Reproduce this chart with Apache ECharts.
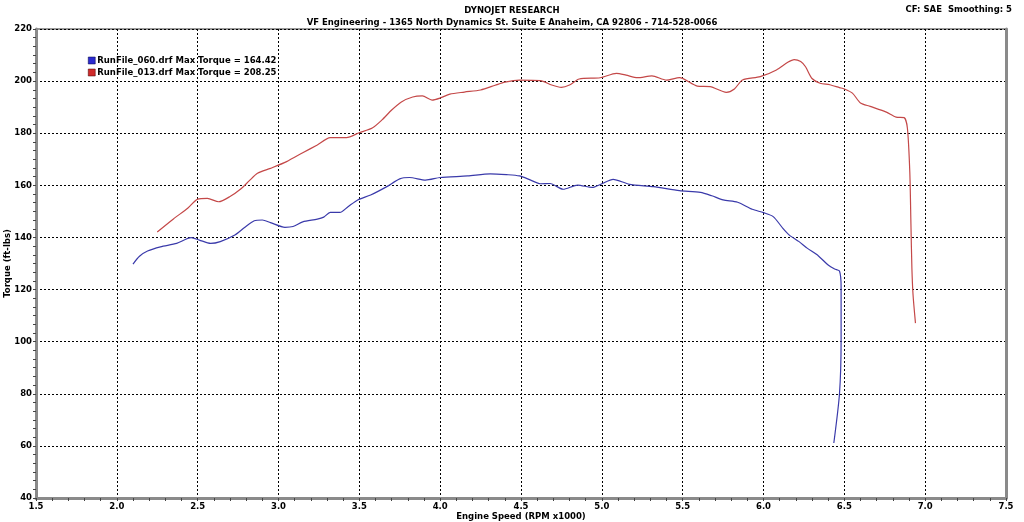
<!DOCTYPE html>
<html>
<head>
<meta charset="utf-8">
<script src="https://cdn.jsdelivr.net/npm/echarts@6/dist/echarts.min.js"></script>
<style>html,body{margin:0;padding:0;background:#fff}#c{width:1024px;height:522px}</style>
</head>
<body>
<div id="c"></div>
<script>
const titleMain = 'DYNOJET RESEARCH';
const titleSub = 'VF Engineering - 1365 North Dynamics St. Suite E Anaheim, CA 92806 - 714-528-0066';
const cornerText = 'CF: SAE  Smoothing: 5';
const seriesNames = ['RunFile_060.drf Max Torque = 164.42', 'RunFile_013.drf Max Torque = 208.25'];

const rpmBlue = [2.10,2.14,2.19,2.27,2.37,2.46,2.51,2.58,2.64,2.73,2.79,2.85,2.90,2.95,3.04,3.09,3.15,3.24,3.28,3.32,3.38,3.43,3.49,3.57,3.67,3.75,3.81,3.91,4.00,4.17,4.31,4.41,4.49,4.56,4.62,4.68,4.76,4.85,4.94,5.00,5.07,5.17,5.32,5.48,5.61,5.68,5.75,5.84,5.93,6.00,6.06,6.12,6.16,6.22,6.27,6.34,6.40,6.44,6.47,6.48,6.48,6.47,6.435];
const torqueBlue = [129.8,132.8,134.8,136.4,137.7,139.9,139.0,137.7,138.4,140.9,143.8,146.4,146.7,145.7,143.9,144.2,146.0,147.0,147.8,149.6,149.6,151.8,154.4,156.3,159.5,162.5,163.0,162.0,163.0,163.6,164.42,164.1,163.6,162.0,160.6,160.7,158.5,160.1,159.2,160.6,162.3,160.4,159.5,158.0,157.3,156.0,154.4,153.5,150.8,149.5,148.0,143.5,140.9,138.4,135.9,132.9,129.4,127.9,127.1,121.0,100.6,80.0,61.1];

const rpmRed = [2.25,2.35,2.44,2.50,2.56,2.63,2.70,2.77,2.82,2.87,2.95,3.05,3.15,3.24,3.32,3.42,3.50,3.58,3.64,3.70,3.76,3.83,3.89,3.95,4.00,4.06,4.15,4.25,4.34,4.40,4.49,4.62,4.69,4.75,4.80,4.86,4.99,5.09,5.15,5.22,5.31,5.40,5.48,5.59,5.67,5.77,5.82,5.87,5.98,6.08,6.15,6.19,6.23,6.26,6.30,6.35,6.41,6.47,6.50,6.55,6.60,6.66,6.76,6.82,6.87,6.89,6.905,6.912,6.918,6.925,6.94];
const torqueRed = [142.1,147.1,151.3,154.7,155.0,153.7,155.7,158.8,161.8,164.6,166.5,169.1,172.5,175.5,178.3,178.3,180.2,182.0,185.1,188.9,192.0,193.9,194.3,192.7,193.5,195.0,195.8,196.6,198.4,199.6,200.4,200.2,198.5,197.6,198.5,200.8,201.3,203.0,202.3,201.3,202.0,200.4,201.3,198.1,197.9,195.7,197.0,200.4,201.7,204.3,207.2,208.25,207.5,205.5,201.0,199.2,198.6,197.5,197.0,195.4,191.6,190.3,188.1,186.2,186.0,182.0,165.0,145.0,128.0,118.0,107.1];

const xTicks = {min: 1.5, max: 7.5, interval: 0.5};
const yTicks = {min: 40, max: 220, interval: 20};

const pair = (xs, ys) => xs.map((x, i) => [x, ys[i]]);
const bold = {fontFamily: 'DejaVu Sans', fontWeight: 'bold', color: '#000'};

const chart = echarts.init(document.getElementById('c'), null, {renderer: 'canvas'});
chart.setOption({
  animation: false,
  backgroundColor: '#fff',
  title: [
    {text: titleMain, subtext: titleSub, left: 'center', top: 1, itemGap: 3,
     textStyle: Object.assign({fontSize: 8.5}, bold),
     subtextStyle: Object.assign({fontSize: 8.5}, bold)},
    {text: cornerText, right: 7, top: 0, textStyle: Object.assign({fontSize: 8.5}, bold)}
  ],
  legend: {
    orient: 'vertical', left: 83, top: 51, itemWidth: 7, itemHeight: 7, itemGap: 3,
    icon: 'rect', textStyle: Object.assign({fontSize: 8.5, padding: [0,0,0,-3]}, bold),
    data: [
      {name: seriesNames[0], itemStyle: {color: '#2b2bd0', borderColor: '#000040', borderWidth: 0.5}},
      {name: seriesNames[1], itemStyle: {color: '#d02b2b', borderColor: '#400000', borderWidth: 0.5}}
    ]
  },
  grid: {left: 36, right: 18, top: 29, bottom: 24, show: true, borderColor: '#333', borderWidth: 1,
         outerBoundsMode: 'none', containLabel: false},
  xAxis: {
    type: 'value', min: xTicks.min, max: xTicks.max, interval: xTicks.interval,
    name: 'Engine Speed (RPM x1000)', nameLocation: 'middle', nameGap: 14, nameMoveOverlap: false,
    nameTextStyle: Object.assign({fontSize: 8.5}, bold),
    axisLine: {onZero: false, lineStyle: {color: '#8a8a8a', width: 3}},
    axisTick: {show: true, length: 3, lineStyle: {color: '#444'}},
    minorTick: {show: true, splitNumber: 5, length: 3, lineStyle: {color: '#444'}},
    axisLabel: Object.assign({fontSize: 8.5, margin: 4, formatter: v => v.toFixed(1)}, bold),
    splitLine: {show: true, lineStyle: {color: '#000', type: [2, 2], width: 1}}
  },
  yAxis: [{
    type: 'value', min: yTicks.min, max: yTicks.max, interval: yTicks.interval,
    name: 'Torque (ft-lbs)', nameLocation: 'middle', nameGap: 24, nameMoveOverlap: false,
    nameTextStyle: Object.assign({fontSize: 8.5}, bold),
    axisLine: {show: true, lineStyle: {color: '#8a8a8a', width: 3}},
    axisTick: {show: true, length: 3, lineStyle: {color: '#444'}},
    minorTick: {show: true, splitNumber: 6, length: 3, lineStyle: {color: '#444'}},
    axisLabel: Object.assign({fontSize: 8.5, margin: 4}, bold),
    splitLine: {show: true, lineStyle: {color: '#000', type: [2, 2], width: 1}}
  }, {
    type: 'value', min: yTicks.min, max: yTicks.max, interval: yTicks.interval, position: 'right',
    axisLine: {show: true, lineStyle: {color: '#8a8a8a', width: 3}},
    axisTick: {show: false}, axisLabel: {show: false}, splitLine: {show: false}
  }],
  series: [
    {name: seriesNames[0], type: 'line', data: pair(rpmBlue, torqueBlue), showSymbol: false, smooth: 0.25,
     lineStyle: {color: '#3a3aaa', width: 1.2}, itemStyle: {color: '#2b2bd0'}},
    {name: seriesNames[1], type: 'line', data: pair(rpmRed, torqueRed), showSymbol: false, smooth: 0.25,
     lineStyle: {color: '#c44848', width: 1.2}, itemStyle: {color: '#d02b2b'}}
  ]
});
</script>
</body>
</html>
